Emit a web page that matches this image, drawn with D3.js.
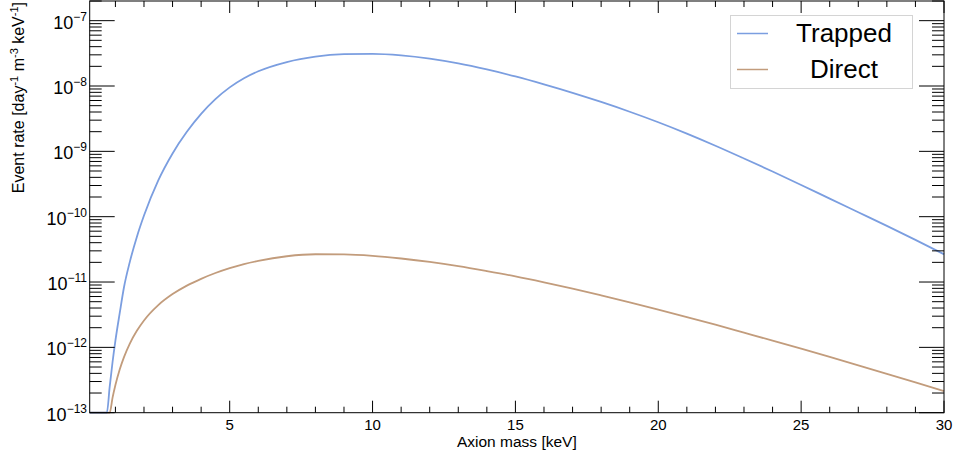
<!DOCTYPE html>
<html>
<head>
<meta charset="utf-8">
<script src="https://cdn.jsdelivr.net/npm/d3@7"></script>
<style>
  html, body { margin: 0; padding: 0; background: #fff; }
  svg { display: block; font-family: "Liberation Sans", Arial, Helvetica, sans-serif; }
</style>
</head>
<body>
<svg id="chart" width="955" height="456"></svg>
<script>
// ---- data ----
const massKeV = [0.1, 0.4, 0.7, 0.8, 0.9, 1.0, 1.15, 1.3, 1.5, 1.75, 2.0, 2.5, 3.0, 3.5, 4.0, 4.5, 5.0, 5.5, 6, 7, 8, 9, 10, 11, 12, 13, 14, 15, 16, 17, 18, 19, 20, 21, 22, 23, 24, 25, 26, 27, 28, 29, 30];
const trappedRate = [1e-20, 1e-16, 8.95e-14, 2.50e-13, 5.97e-13, 1.27e-12, 3.33e-12, 8.32e-12, 2.0e-11, 4.9e-11, 1.04e-10, 3.59e-10, 9.29e-10, 1.99e-9, 3.75e-9, 6.30e-9, 9.53e-9, 1.315e-8, 1.68e-8, 2.33e-8, 2.82e-8, 3.07e-8, 3.11e-8, 2.95e-8, 2.63e-8, 2.22e-8, 1.79e-8, 1.40e-8, 1.06e-8, 7.87e-9, 5.70e-9, 4.04e-9, 2.79e-9, 1.87e-9, 1.22e-9, 7.78e-10, 4.91e-10, 3.06e-10, 1.89e-10, 1.17e-10, 7.24e-11, 4.42e-11, 2.66e-11];
const directRate = [1e-20, 1e-17, 3e-14, 1.0e-13, 1.70e-13, 2.65e-13, 4.58e-13, 7.10e-13, 1.135e-12, 1.79e-12, 2.58e-12, 4.43e-12, 6.53e-12, 8.81e-12, 1.12e-11, 1.374e-11, 1.633e-11, 1.884e-11, 2.11e-11, 2.48e-11, 2.66e-11, 2.65e-11, 2.52e-11, 2.29e-11, 2.03e-11, 1.75e-11, 1.47e-11, 1.22e-11, 9.89e-12, 7.91e-12, 6.24e-12, 4.89e-12, 3.79e-12, 2.91e-12, 2.22e-12, 1.68e-12, 1.27e-12, 9.55e-13, 7.14e-13, 5.32e-13, 3.94e-13, 2.91e-13, 2.14e-13];
const seriesNames = ["Trapped", "Direct"];
const seriesColors = ["#7b9ee0", "#c29c7c"];
const xTickLabels = [5, 10, 15, 20, 25, 30];
const yDecades = [-13, -12, -11, -10, -9, -8, -7];
const xTitle = "Axion mass [keV]";

// ---- scales ----
const svg = d3.select("#chart");
const x = d3.scaleLinear().domain([0.1, 30]).range([89.7, 944]);
const yMin = 1e-13, yMax = 2e-7;
const y = d3.scaleLog().domain([yMin, yMax]).range([412.7, 1]);
const X0 = x.range()[0], X1 = x.range()[1], Y0 = y.range()[0], Y1 = y.range()[1];

// ---- curves (values below the axis minimum drawn on the bottom edge) ----
const line = d3.line()
  .x(d => x(d[0]))
  .y(d => y(Math.max(yMin, d[1])))
  .curve(d3.curveMonotoneX);
const trappedData = massKeV.map((m, i) => [m, trappedRate[i]]);
const directData = massKeV.map((m, i) => [m, directRate[i]]);

svg.append("path").datum(directData).attr("d", line)
  .attr("fill", "none").attr("stroke", seriesColors[1]).attr("stroke-width", 1.8);
svg.append("path").datum(trappedData).attr("d", line)
  .attr("fill", "none").attr("stroke", seriesColors[0]).attr("stroke-width", 1.8);

// ---- frame ----
svg.append("rect").attr("x", X0).attr("y", Y1).attr("width", X1 - X0).attr("height", Y0 - Y1)
  .attr("fill", "none").attr("stroke", "#000").attr("stroke-width", 1);

const tg = svg.append("g").attr("stroke", "#000").attr("stroke-width", 1);
// x ticks (bottom and top)
for (let v = 1; v <= 30; v++) {
  const major = v % 5 === 0;
  const len = major ? 12 : 6;
  const px = x(v);
  tg.append("line").attr("x1", px).attr("x2", px).attr("y1", Y0).attr("y2", Y0 - len);
  tg.append("line").attr("x1", px).attr("x2", px).attr("y1", Y1).attr("y2", Y1 + len);
}
// y ticks (left and right)
yDecades.forEach(d => {
  for (let k = 1; k <= 9; k++) {
    const v = k * Math.pow(10, d);
    if (v < yMin * 0.999 || v > yMax * 1.001) continue;
    const len = k === 1 ? 25 : 12;
    const py = y(v);
    tg.append("line").attr("x1", X0).attr("x2", X0 + len).attr("y1", py).attr("y2", py);
    tg.append("line").attr("x1", X1).attr("x2", X1 - len).attr("y1", py).attr("y2", py);
  }
});

// x tick labels
svg.append("g").selectAll("text").data(xTickLabels).join("text")
  .attr("x", d => x(d)).attr("y", 429.5)
  .attr("text-anchor", "middle").attr("font-size", 15).attr("fill", "#000")
  .text(d => d);

// y tick labels
const yl = svg.append("g").selectAll("text").data(yDecades).join("text")
  .attr("x", 87).attr("y", d => y(Math.pow(10, d)) + 8)
  .attr("text-anchor", "end").attr("font-size", 18).attr("fill", "#000");
yl.append("tspan").text("10");
yl.append("tspan").attr("dy", -8).attr("font-size", 12).text(d => "\u2212" + Math.abs(d));

// axis titles
svg.append("text").attr("x", (X0 + X1) / 2).attr("y", 447)
  .attr("text-anchor", "middle").attr("font-size", 15.5).text(xTitle);

const yt = svg.append("text").attr("transform", "translate(24,2) rotate(-90)")
  .attr("text-anchor", "end").attr("font-size", 16);
yt.append("tspan").text("Event rate [day");
yt.append("tspan").attr("dy", -6).attr("font-size", 11).text("-1");
yt.append("tspan").attr("dy", 6).text(" m");
yt.append("tspan").attr("dy", -6).attr("font-size", 11).text("-3");
yt.append("tspan").attr("dy", 6).text(" keV");
yt.append("tspan").attr("dy", -6).attr("font-size", 11).text("-1");
yt.append("tspan").attr("dy", 6).text("]");

// legend
const lg = svg.append("g");
lg.append("rect").attr("x", 730.5).attr("y", 15.5).attr("width", 182).attr("height", 73)
  .attr("fill", "#fff").attr("stroke", "#d4d4d4").attr("stroke-width", 1);
seriesNames.forEach((name, i) => {
  const ly = [33.5, 69.5][i];
  lg.append("line").attr("x1", 737).attr("x2", 768).attr("y1", ly).attr("y2", ly)
    .attr("stroke", seriesColors[i]).attr("stroke-width", 1.5);
  lg.append("text").attr("x", 844).attr("y", [41.7, 77.7][i])
    .attr("text-anchor", "middle").attr("font-size", 26).attr("fill", "#000").text(name);
});
</script>
</body>
</html>
